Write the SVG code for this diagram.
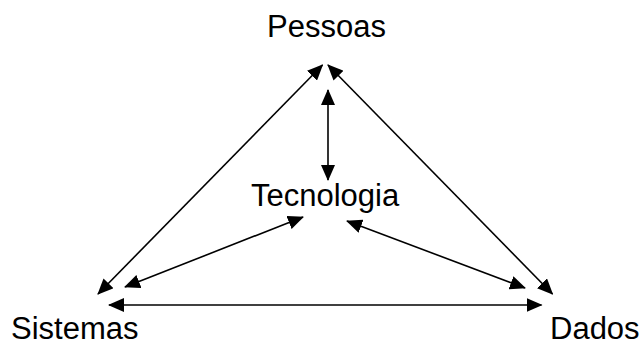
<svg xmlns="http://www.w3.org/2000/svg" width="643" height="345" viewBox="0 0 643 345">
<style>
.lbl{font-family:"Liberation Sans",Arial,sans-serif;font-size:31px;fill:#000}
.c{stroke:#000;stroke-width:1.6;fill:none;marker-start:url(#ah);marker-end:url(#ah)}
</style>
<defs>
<marker id="ah" viewBox="0 0 16 14" refX="15" refY="7" markerWidth="16" markerHeight="14" markerUnits="userSpaceOnUse" orient="auto-start-reverse">
<path d="M0,0 L16,7 L0,14 z" fill="#000"/>
</marker>
</defs>
<rect width="643" height="345" fill="#fff"/>
<g id="connectors">
<line class="c" x1="98" y1="294" x2="322.5" y2="65"/>
<line class="c" x1="552.5" y1="294" x2="328" y2="65"/>
<line class="c" x1="328" y1="90" x2="328" y2="180"/>
<line class="c" x1="125" y1="287" x2="303" y2="217"/>
<line class="c" x1="525" y1="288" x2="347" y2="221"/>
<line class="c" x1="109" y1="305" x2="541.5" y2="305"/>
</g>
<g id="pessoas"><text class="lbl" x="267" y="37">Pessoas</text></g>
<g id="tecnologia"><text class="lbl" x="251" y="206">Tecnologia</text></g>
<g id="sistemas"><text class="lbl" x="11" y="339">Sistemas</text></g>
<g id="dados"><text class="lbl" x="550" y="339">Dados</text></g>
</svg>
